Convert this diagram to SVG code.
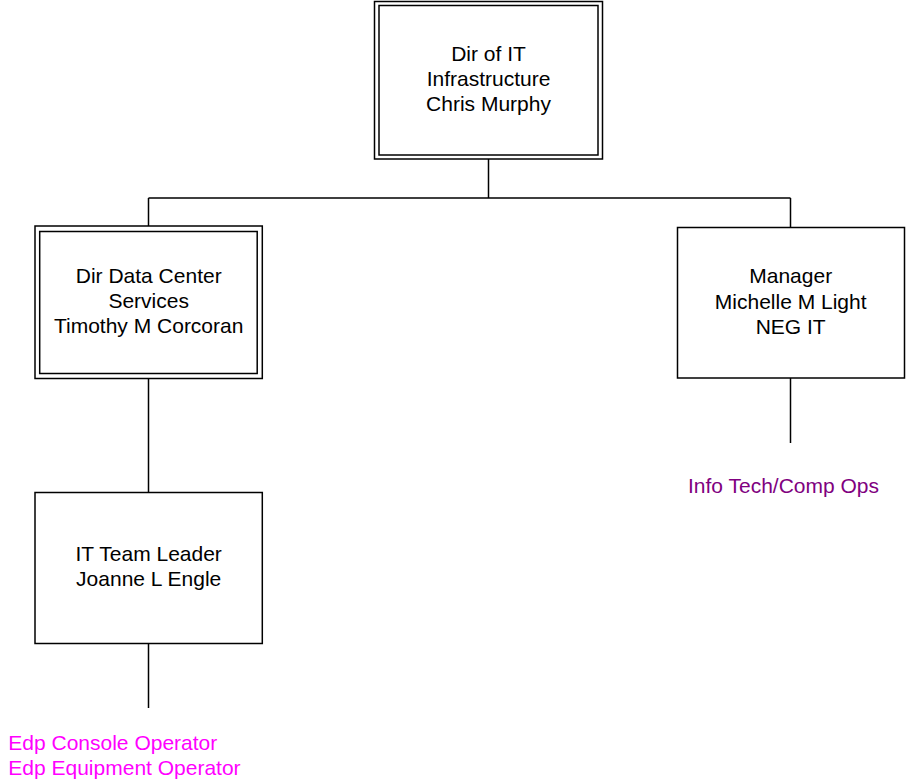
<svg xmlns="http://www.w3.org/2000/svg" width="907" height="782" viewBox="0 0 907 782">
<style>
.box{fill:#fff;stroke:#000;stroke-width:1.5}
.in{fill:none;stroke:#000;stroke-width:1.5}
.ln{fill:none;stroke:#000;stroke-width:1.5}
text{font-family:"Liberation Sans",Arial,sans-serif;font-size:21px;fill:#000}
.c{text-anchor:middle}
.pink{fill:#FF00FF}
.purple{fill:#800080}
</style>
<rect width="907" height="782" fill="#fff"/>
<g id="connectors">
<path class="ln" d="M488.5 159V198M148.5 198H790.5M148.5 198V226M790.5 198V227.5"/>
<path class="ln" d="M148.5 378.5V492.5M148.5 643.5V708"/>
<path class="ln" d="M790.5 378V443"/>
</g>
<g id="n1">
<rect class="box" x="374.5" y="1.5" width="228" height="157.5"/>
<rect class="in" x="379" y="5.5" width="219" height="149.5"/>
<text class="c" x="488.5" y="61">Dir of IT</text>
<text class="c" x="488.5" y="86">Infrastructure</text>
<text class="c" x="488.5" y="111">Chris Murphy</text>
</g>
<g id="n2">
<rect class="box" x="35" y="226" width="227.3" height="152.5"/>
<rect class="in" x="39.7" y="231.5" width="217.5" height="142"/>
<text class="c" x="148.7" y="283.3">Dir Data Center</text>
<text class="c" x="148.7" y="308.3">Services</text>
<text class="c" x="148.7" y="333.3">Timothy M Corcoran</text>
</g>
<g id="n3">
<rect class="box" x="677.5" y="227.5" width="227" height="150.5"/>
<text class="c" x="790.7" y="283.3">Manager</text>
<text class="c" x="790.7" y="309">Michelle M Light</text>
<text class="c" x="790.7" y="334">NEG IT</text>
</g>
<g id="n4">
<rect class="box" x="35" y="492.5" width="227.3" height="151"/>
<text class="c" x="148.7" y="561">IT Team Leader</text>
<text class="c" x="148.7" y="586">Joanne L Engle</text>
</g>
<g id="n5">
<text class="purple" x="688" y="493.3">Info Tech/Comp Ops</text>
</g>
<g id="n6">
<text class="pink" x="8.3" y="750">Edp Console Operator</text>
<text class="pink" x="8.3" y="775">Edp Equipment Operator</text>
</g>
</svg>
